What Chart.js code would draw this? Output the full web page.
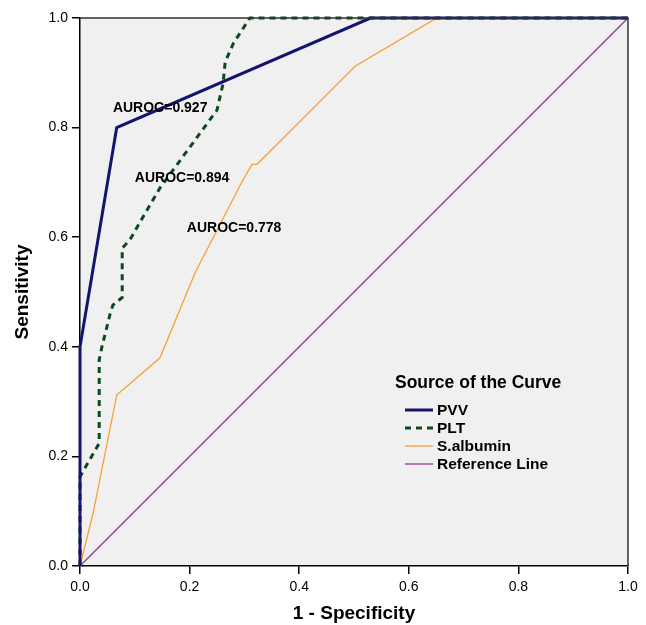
<!DOCTYPE html>
<html>
<head>
<meta charset="utf-8">
<script src="https://cdn.jsdelivr.net/npm/chart.js@4"></script>
<style>
  html, body { margin: 0; padding: 0; background: #fff; }
  #wrap { width: 646px; height: 625px; }
</style>
</head>
<body>
<div id="wrap"><canvas id="myChart" width="646" height="625"></canvas></div>
<script>
// ROC curves
const pvvFpr = [0, 0, 0.067, 0.53, 1];
const pvvTpr = [0, 0.40, 0.80, 1.0, 1];

const pltFpr = [0, 0, 0.035, 0.035, 0.04, 0.055, 0.06, 0.077, 0.077, 0.091, 0.115, 0.146, 0.25, 0.261, 0.265, 0.28, 0.31, 1];
const pltTpr = [0, 0.163, 0.224, 0.376, 0.40, 0.46, 0.476, 0.49, 0.58, 0.595, 0.637, 0.69, 0.832, 0.88, 0.92, 0.954, 1.0, 1];

const albFpr = [0, 0.024, 0.067, 0.146, 0.21, 0.297, 0.314, 0.323, 0.502, 0.651, 1];
const albTpr = [0, 0.097, 0.312, 0.38, 0.535, 0.704, 0.733, 0.733, 0.912, 1.0, 1];

const refFpr = [0, 1];
const refTpr = [0, 1];

const aurocText = ['AUROC=0.927', 'AUROC=0.894', 'AUROC=0.778'];
const aurocX = [0.06, 0.10, 0.195];
const aurocY = [0.836, 0.708, 0.617];

const ticks = [0, 0.2, 0.4, 0.6, 0.8, 1.0];

function pts(xs, ys) {
  return xs.map((x, i) => ({x: x, y: ys[i]}));
}

const FONT = '"Liberation Sans", Arial, sans-serif';

// grey plot area + top/right frame
const areaPlugin = {
  id: 'area',
  beforeDraw(chart) {
    const a = chart.chartArea, c = chart.ctx;
    c.save();
    c.fillStyle = '#f0f0f0';
    c.fillRect(a.left, a.top, a.right - a.left, a.bottom - a.top);
    c.restore();
  },
  afterDatasetsDraw(chart) {
    const a = chart.chartArea, c = chart.ctx;
    c.save();
    c.strokeStyle = '#333';
    c.lineWidth = 1.5;
    c.beginPath();
    c.moveTo(a.left, a.top);
    c.lineTo(a.right, a.top);
    c.lineTo(a.right, a.bottom);
    c.stroke();
    c.restore();
  }
};

// AUROC labels and legend box
const textPlugin = {
  id: 'texts',
  afterDraw(chart) {
    const c = chart.ctx, sx = chart.scales.x, sy = chart.scales.y;
    c.save();
    c.fillStyle = '#000';
    c.font = 'bold 14px ' + FONT;
    c.textBaseline = 'middle';
    c.textAlign = 'left';
    aurocText.forEach((t, i) => {
      c.fillText(t, sx.getPixelForValue(aurocX[i]), sy.getPixelForValue(aurocY[i]));
    });

    // legend
    const lx = 395, ly = 383;
    c.font = 'bold 17.5px ' + FONT;
    c.fillText('Source of the Curve', lx, ly);
    c.font = 'bold 15.5px ' + FONT;
    chart.data.datasets.forEach((ds, i) => {
      const y = 410 + i * 18;
      c.strokeStyle = ds.borderColor;
      c.lineWidth = ds.borderWidth;
      c.setLineDash(ds.borderDash || []);
      c.beginPath();
      c.moveTo(405, y);
      c.lineTo(433, y);
      c.stroke();
      c.setLineDash([]);
      c.fillText(ds.label, 437, y + 1);
    });
    c.restore();
  }
};

const cfg = {
  type: 'line',
  data: {
    datasets: [{
      label: 'PVV',
      data: pts(pvvFpr, pvvTpr),
      borderColor: '#14146e',
      borderWidth: 3
    }, {
      label: 'PLT',
      data: pts(pltFpr, pltTpr),
      borderColor: '#0b4a1f',
      borderWidth: 3,
      borderDash: [6, 5]
    }, {
      label: 'S.albumin',
      data: pts(albFpr, albTpr),
      borderColor: '#f7a035',
      borderWidth: 1.3
    }, {
      label: 'Reference Line',
      data: pts(refFpr, refTpr),
      borderColor: '#8e3a8e',
      borderWidth: 1.3
    }]
  },
  options: {
    responsive: false,
    animation: false,
    clip: false,
    elements: { point: { radius: 0 }, line: { tension: 0 } },
    layout: { padding: { top: 18, right: 18, left: 0, bottom: 0 } },
    scales: {
      x: {
        type: 'linear',
        min: 0, max: 1,
        afterFit(s) { s.height = 59; },
        afterBuildTicks(s) { s.ticks = ticks.map(v => ({value: v})); },
        ticks: {
          color: '#000',
          font: { family: FONT, size: 14 },
          padding: 5,
          callback: v => Number(v).toFixed(1)
        },
        grid: { drawOnChartArea: false, drawTicks: true, tickLength: 8, color: '#000', lineWidth: 1.5 },
        border: { color: '#000', width: 1.5 },
        title: {
          display: true,
          text: '1 - Specificity',
          color: '#000',
          font: { family: FONT, size: 19, weight: 'bold' },
          padding: { top: 2, bottom: 0 }
        }
      },
      y: {
        type: 'linear',
        min: 0, max: 1,
        afterFit(s) { s.width = 80; },
        afterBuildTicks(s) { s.ticks = ticks.map(v => ({value: v})); },
        ticks: {
          color: '#000',
          font: { family: FONT, size: 14 },
          padding: 4,
          callback: v => Number(v).toFixed(1)
        },
        grid: { drawOnChartArea: false, drawTicks: true, tickLength: 8, color: '#000', lineWidth: 1.5 },
        border: { color: '#000', width: 1.5 },
        title: {
          display: true,
          text: 'Sensitivity',
          color: '#000',
          font: { family: FONT, size: 19, weight: 'bold' },
          padding: { top: 11, bottom: 0 }
        }
      }
    },
    plugins: {
      legend: { display: false },
      tooltip: { enabled: false }
    }
  },
  plugins: [areaPlugin, textPlugin]
};

const ctx = document.getElementById('myChart');
new Chart(ctx, cfg);
</script>
</body>
</html>
